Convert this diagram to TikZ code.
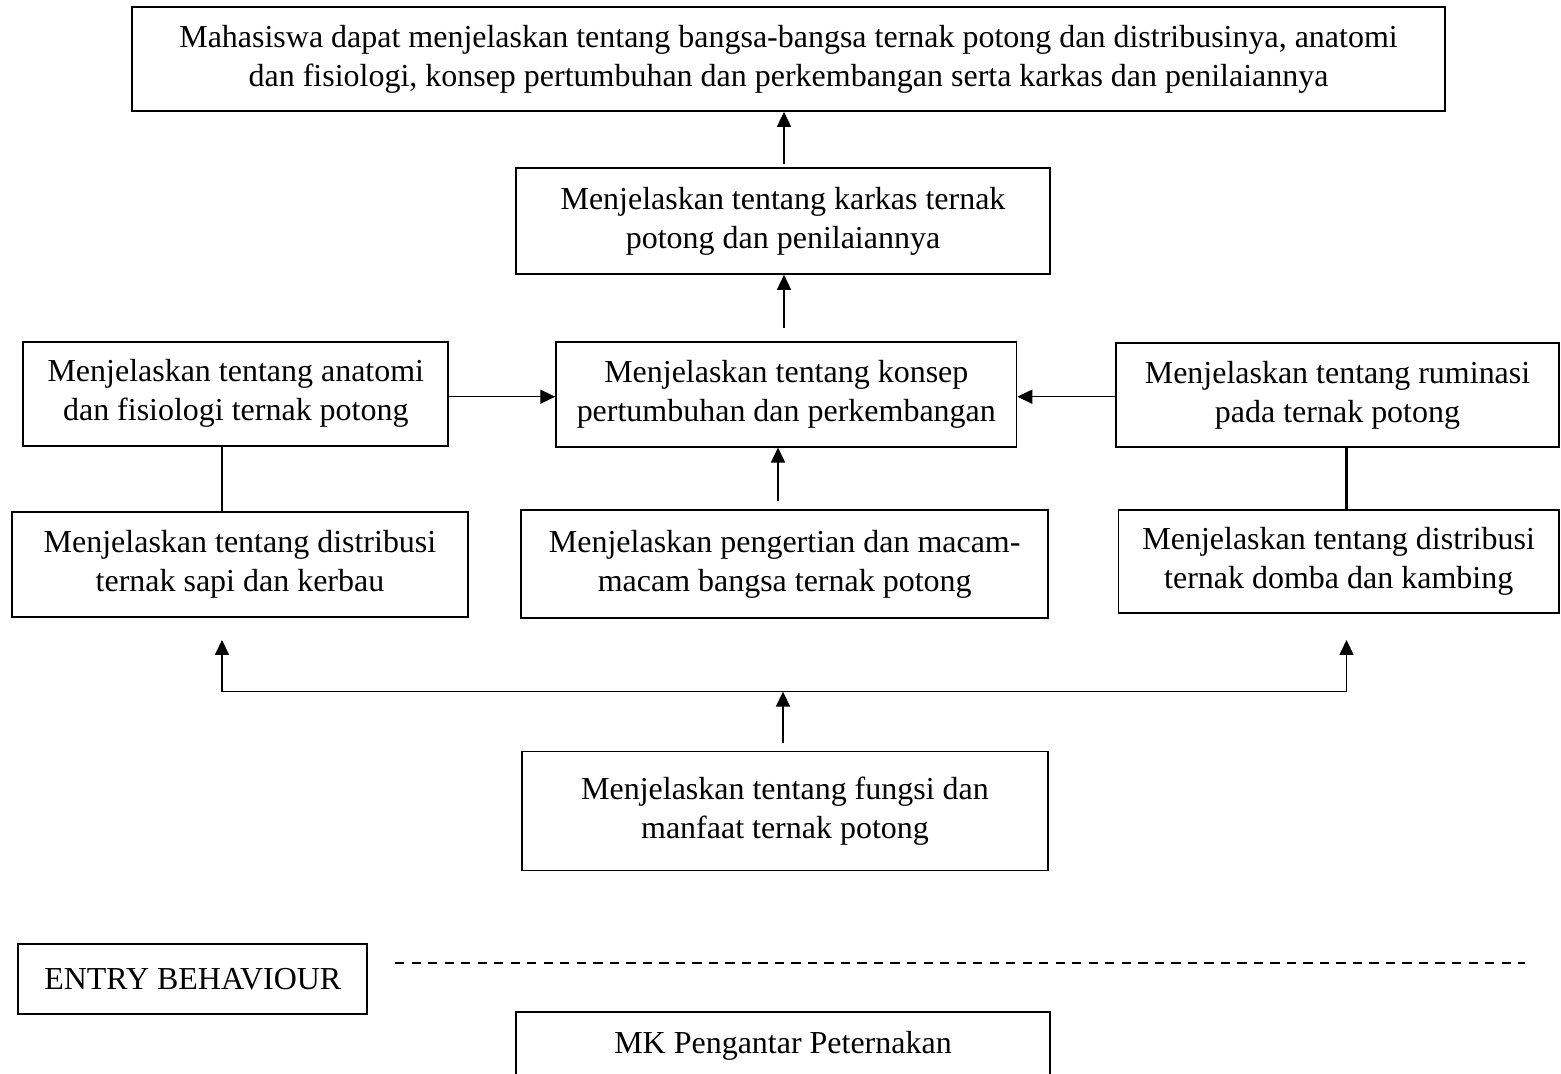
\documentclass[tikz,border=0pt]{standalone}
\usepackage{fontspec}
\setmainfont{Liberation Serif}
\usepackage{tikz}
\usetikzlibrary{arrows.meta,positioning,calc}

\begin{document}
\begin{tikzpicture}[x=0.02cm, y=-0.02cm,
    boks/.style={draw, line width=1pt, inner sep=0pt, align=center,
      font=\fontsize{18.2}{22.1}\selectfont},
    arr/.style={line width=0.8pt, -{Triangle[length=8.5pt, width=8pt]}},
    garis/.style={line width=1.6pt}]
    \clip (0,0) rectangle (1561,1074);

    % Tujuan akhir
    \node[boks, minimum width=26.26cm, minimum height=2.08cm] (goal) at (788.5,59)
      {Mahasiswa dapat menjelaskan tentang bangsa-bangsa ternak potong dan distribusinya, anatomi\\
       dan fisiologi, konsep pertumbuhan dan perkembangan serta karkas dan penilaiannya};

    % Baris tengah
    \node[boks, minimum width=10.68cm, minimum height=2.12cm] (karkas) at (783,221)
      {Menjelaskan tentang karkas ternak\\potong dan penilaiannya};
    \node[boks, minimum width=9.21cm, minimum height=2.1cm] (konsep) at (786.3,394.2)
      {Menjelaskan tentang konsep\\pertumbuhan dan perkembangan};
    \node[boks, minimum width=8.5cm, minimum height=2.08cm] (anatomi) at (235.8,393.7)
      {Menjelaskan tentang anatomi\\dan fisiologi ternak potong};
    \node[boks, minimum width=8.86cm, minimum height=2.08cm] (ruminasi) at (1337.5,395.3)
      {Menjelaskan tentang ruminasi\\pada ternak potong};

    % Baris bawah
    \node[boks, minimum width=9.13cm, minimum height=2.11cm] (sapi) at (240,564.5)
      {Menjelaskan tentang distribusi\\ternak sapi dan kerbau};
    \node[boks, minimum width=10.54cm, minimum height=2.16cm] (bangsa) at (784.7,564)
      {Menjelaskan pengertian dan macam-\\macam bangsa ternak potong};
    \node[boks, minimum width=8.81cm, minimum height=2.06cm] (domba) at (1338.7,561.7)
      {Menjelaskan tentang distribusi\\ternak domba dan kambing};

    \node[boks, minimum width=10.53cm, minimum height=2.38cm] (fungsi) at (785,811)
      {Menjelaskan tentang fungsi dan\\manfaat ternak potong};

    % Entry behaviour
    \node[boks, minimum width=6.98cm, minimum height=1.4cm] (entry) at (192.8,979)
      {ENTRY BEHAVIOUR};
    \node[boks, minimum width=10.68cm, minimum height=1.36cm] (mk) at (783,1046)
      {MK Pengantar Peternakan};

    % Titik bantu
    \coordinate (a1) at (784,164);
    \coordinate (a2) at (784,328);
    \coordinate (a3) at (778,501);
    \coordinate (a4) at (783,743);
    \coordinate (lj) at (222,691.7);
    \coordinate (rj) at (1346.5,691.7);
    \coordinate (lt) at (222,640);
    \coordinate (rt) at (1346.5,640);
    \coordinate (d1) at (395,963);
    \coordinate (d2) at (1525,963);

    % Panah
    \draw[arr] (a1) -- (a1 |- goal.south);
    \draw[arr] (a2) -- (a2 |- karkas.south);
    \draw[arr] (a3) -- (a3 |- konsep.south);
    \draw[arr] (anatomi.east |- 0,396.7) -- (konsep.west |- 0,396.7);
    \draw[arr] (ruminasi.west |- 0,396.7) -- (konsep.east |- 0,396.7);
    \draw[garis] (anatomi.south -| lj) -- (sapi.north -| lj);
    \draw[garis] (ruminasi.south -| rj) -- (domba.north -| rj);
    \draw[line width=0.8pt] (lj) -- (rj);
    \draw[arr] (lj) -- (lt);
    \draw[arr] (rj) -- (rt);
    \draw[arr] (a4) -- (a4 |- lj);

    \draw[line width=1.4pt, dash pattern=on 5.3pt off 4.1pt] (d1) -- (d2);
  \end{tikzpicture}
\end{document}
